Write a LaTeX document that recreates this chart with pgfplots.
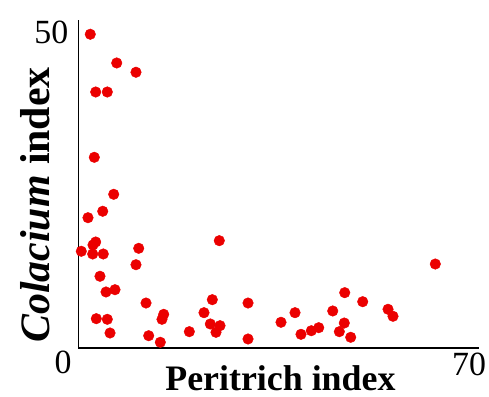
\documentclass[border=0pt]{standalone}
\usepackage{fontspec}
\setmainfont{Liberation Serif}
\usepackage{pgfplots}
\pgfplotsset{compat=1.18}

\definecolor{dotred}{RGB}{235, 0, 0}

\begin{document}
\begin{tikzpicture}
  \begin{axis}[
      at={(0,0)}, anchor=origin,
      scale only axis,
      width=400.5bp,
      height=327.7bp,
      xmin=0, xmax=71.77,
      ymin=0, ymax=51.93,
      axis lines=left,
      axis line style={-, line width=1.6bp, black},
      major tick length=0pt,
      xtick={70}, xticklabels={70},
      ytick={50}, yticklabels={50},
      xticklabel style={font=\fontsize{34}{34}\selectfont, inner sep=0pt, yshift=-5bp},
      yticklabel style={font=\fontsize{34}{34}\selectfont, inner sep=0pt, xshift=-10bp},
      clip=false
    ]
    \addplot[only marks, mark=*, mark size=5.3bp, color=dotred] coordinates {
      (2.11,49.67) (6.85,45.12) (10.30,43.65) (3.08,40.52) (5.16,40.52)
      (2.83,30.17) (6.31,24.31) (1.70,20.60) (4.34,21.62) (3.08,16.75)
      (2.60,16.28) (0.50,15.28) (2.54,14.85) (4.44,14.85) (10.79,15.75)
      (10.30,13.15) (25.23,16.96) (3.85,11.32) (4.93,8.83) (6.54,9.19)
      (12.10,7.08) (3.19,4.60) (5.16,4.50) (5.65,2.33) (15.27,5.29)
      (14.96,4.50) (12.58,1.90) (14.66,0.86) (19.86,2.54) (22.49,5.55)
      (23.98,7.61) (23.62,3.76) (25.36,3.49) (24.64,2.44) (30.38,7.08)
      (30.38,1.38) (63.94,13.26) (47.71,8.72) (50.93,7.29) (45.56,5.82)
      (55.47,6.09) (56.36,4.98) (38.80,5.55) (36.29,4.03) (47.63,3.91)
      (39.87,2.12) (41.72,2.69) (43.05,3.17) (46.74,2.54) (48.78,1.65)
    };
  \end{axis}
  \node[font=\fontsize{34}{34}\selectfont, inner sep=0pt] at (-15.5bp,-14.3bp) {0};
  \node[font=\fontsize{36}{36}\selectfont\bfseries, anchor=base, inner sep=0pt]
    at (201.9bp,-43bp) {Peritrich index};
  \node[font=\fontsize{42}{42}\selectfont\bfseries, rotate=90, anchor=base, inner sep=0pt]
    at (-29.5bp,142.7bp) {\textit{Colacium} index};
  \path[use as bounding box] (-78.5bp,-49.3bp) rectangle (410.5bp,347.7bp);
\end{tikzpicture}
\end{document}
